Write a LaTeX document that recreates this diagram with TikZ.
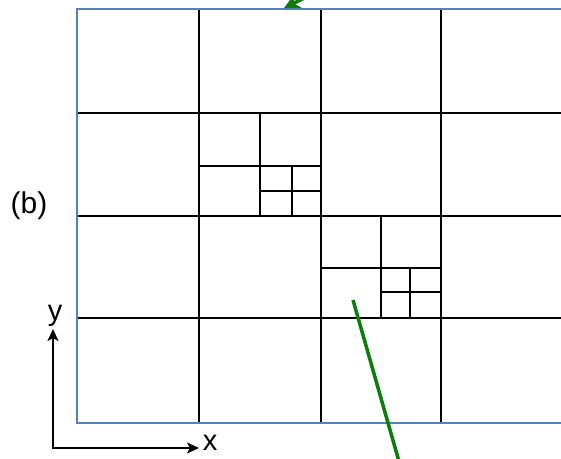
\documentclass[tikz,border=0pt]{standalone}
\usepackage{fontspec}
\setmainfont{Liberation Sans}
\usetikzlibrary{arrows.meta}
\definecolor{frameblue}{RGB}{84,130,190}
\definecolor{arrowgreen}{RGB}{10,125,10}
\begin{document}
\begin{tikzpicture}[x=1pt,y=-1pt,
  gridline/.style={line width=2.4pt,black},
  frameline/.style={line width=2.4pt,frameblue},
  greenline/.style={line width=3.5pt,arrowgreen},
  axisline/.style={line width=1.8pt,black},
  lbl/.style={font=\fontsize{29}{32}\selectfont,inner sep=0pt}]
\useasboundingbox (0,0) rectangle (561,458);
\begin{scope}
\clip (0,0) rectangle (561,458);
% main grid
\foreach \yy in {113,216,318} \draw[gridline] (77,\yy) -- (575,\yy);
\foreach \xx in {199,321,441} \draw[gridline] (\xx,9) -- (\xx,423);
% refined cell 1
\draw[gridline] (260,113) -- (260,216);
\draw[gridline] (199,166) -- (321,166);
\draw[gridline] (292,166) -- (292,216);
\draw[gridline] (260,191) -- (321,191);
% refined cell 2
\draw[gridline] (381,216) -- (381,318);
\draw[gridline] (321,268) -- (441,268);
\draw[gridline] (410,268) -- (410,318);
\draw[gridline] (381,292) -- (441,292);
% frame
\draw[frameline] (575,9) -- (77,9) -- (77,423) -- (575,423);
% green pointers
\coordinate (gA) at (353,300);
\coordinate (gB) at (400,465);
\draw[greenline] (gA) -- (gB);
\coordinate (gC) at (345,-22);
\coordinate (gD) at (284,8);
\draw[greenline,-{Stealth[length=16pt,width=16pt]}] (gC) -- (gD);
\end{scope}
% axes
\coordinate (o) at (53,448);
\coordinate (ytip) at (53,329);
\coordinate (xtip) at (199,448);
\draw[axisline,{Stealth[length=12pt,width=11pt,inset=3pt]}-{Stealth[length=12pt,width=11pt,inset=3pt]}] (ytip) -- (o) -- (xtip);
\node[lbl] (ylab) at (55,316) {y};
\node[lbl] (xlab) at (210,443) {x};
\node[lbl,font=\fontsize{30}{34}\selectfont] (blab) at (29,206) {(b)};
\end{tikzpicture}
\end{document}
